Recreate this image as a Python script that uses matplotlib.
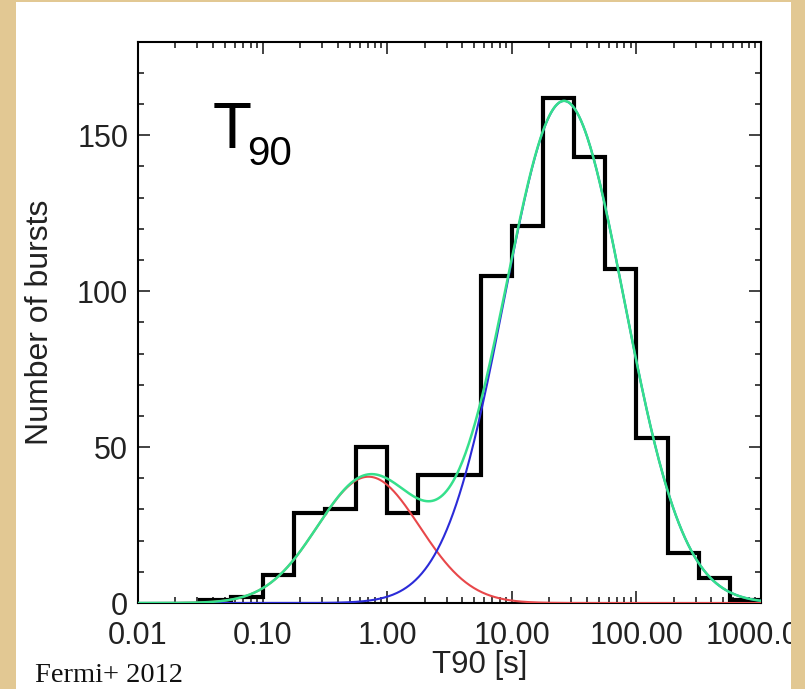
import numpy as np
import matplotlib
matplotlib.use("Agg")
import matplotlib.pyplot as plt
from matplotlib.patches import Rectangle
from matplotlib.ticker import MultipleLocator, LogLocator, NullFormatter

# histogram: bin edges in log10(T90), quarter-decade bins
log_edges = [-1.5, -1.25, -1.0, -0.75, -0.5, -0.25, 0.0, 0.25, 0.5, 0.75,
             1.0, 1.25, 1.5, 1.75, 2.0, 2.25, 2.5, 2.75, 3.0]
counts = [1, 2, 9, 29, 30, 50, 29, 41, 41, 105, 121, 162, 143, 107, 53, 16, 8, 1]

# two-component lognormal fit (amplitude, log10 centre, log10 width)
short_fit = [40.5, -0.15, 0.41]
long_fit = [161.0, 1.42, 0.48]

xtick_vals = [0.01, 0.1, 1, 10, 100, 1000]
xtick_labels = ["0.01", "0.10", "1.00", "10.00", "100.00", "1000.00"]
ytick_vals = [0, 50, 100, 150]

plt.rcParams['font.family'] = ['Liberation Sans', 'DejaVu Sans']

fig = plt.figure(figsize=(8.05, 6.89), dpi=100, facecolor='white')
ax = fig.add_axes([0.1714, 0.1248, 0.7739, 0.8147])

edges = 10 ** np.array(log_edges)
ax.stairs(counts, edges, baseline=0, fill=False, color='black', linewidth=3.0, zorder=2)

# fitted components
lx = np.linspace(-2, 3, 600)
def gauss(p):
    return p[0] * np.exp(-(lx - p[1]) ** 2 / (2 * p[2] ** 2))
red = gauss(short_fit)
blue = gauss(long_fit)
ax.plot(10 ** lx, red, color='#e8474a', linewidth=1.5, zorder=3)
ax.plot(10 ** lx, blue, color='#2b2bd8', linewidth=1.5, zorder=3)
ax.plot(10 ** lx, red + blue, color='#35e08c', linewidth=1.8, zorder=4)

ax.set_xscale('log')
ax.set_xlim(0.01, 1000)
ax.set_ylim(0, 180)
ax.set_xticks(xtick_vals, xtick_labels)
ax.xaxis.set_minor_locator(LogLocator(base=10, subs=np.arange(2, 10)))
ax.xaxis.set_minor_formatter(NullFormatter())
ax.set_yticks(ytick_vals)
ax.yaxis.set_minor_locator(MultipleLocator(10))

ax.tick_params(which='both', direction='in', top=True, right=True, width=1.2,
               labelsize=22, colors='#222222', pad=7)
ax.tick_params(axis='x', which='major', pad=13)
ax.tick_params(which='major', length=8.5)
ax.tick_params(which='minor', length=4.5)
for s in ax.spines.values():
    s.set_linewidth(1.5)

ax.set_ylabel('Number of bursts', fontsize=23, color='#222222')
ax.yaxis.set_label_coords(-0.133, 0.5)
ax.set_xlabel('T90 [s]', fontsize=22.5, color='#222222', va='top')
ax.xaxis.set_label_coords(0.549, -0.083)

ax.text(0.120, 0.811, 'T', transform=ax.transAxes, fontsize=46, va='baseline')
ax.text(0.175, 0.781, '90', transform=ax.transAxes, fontsize=29, va='baseline')

# parchment frame around the white slide panel
tan = '#e2c893'
W, H = 805, 689
frame = [(0, 0, 16, H), (791, 0, W - 791, H), (0, H - 2, W, 2)]
for x0, y0, w, h in frame:
    fig.patches.append(Rectangle((x0 / W, y0 / H), w / W, h / H, transform=fig.transFigure,
                                 facecolor=tan, edgecolor='none', zorder=10))

fig.text(35 / W, 1 - 682 / H, 'Fermi+ 2012', fontsize=20.5, family='Liberation Serif',
         color='#111111', va='baseline')

fig.savefig('out.png', dpi=100, facecolor=fig.get_facecolor())
